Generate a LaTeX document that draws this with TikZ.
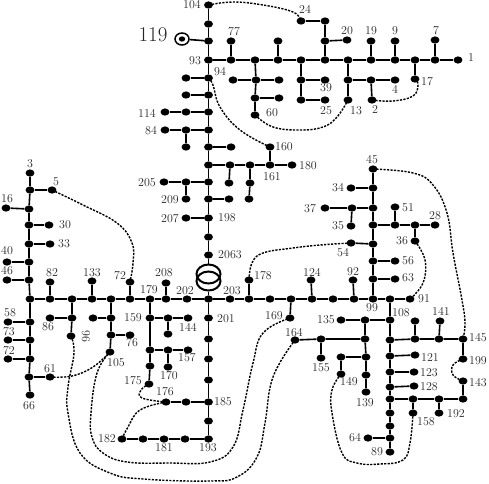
\documentclass[tikz,border=0pt]{standalone}
\usepackage{fontspec}
\usetikzlibrary{shapes.geometric}

\tikzset{
  bus/.style={ellipse, fill=black, minimum width=8.8pt, minimum height=7.2pt, inner sep=0pt},
  winding/.style={ellipse, draw=black, line width=2pt, minimum width=24pt, minimum height=19pt, inner sep=0pt},
  feeder/.style={black, line width=1.6pt},
  tie/.style={black, line width=1.4pt, dash pattern=on 2.2pt off 1.3pt},
  tag/.style={black!85, inner sep=0pt, font=\fontsize{12}{12}\selectfont}
}

\begin{document}
\begin{tikzpicture}[x=1pt, y=-1pt]
  \useasboundingbox (0,0) rectangle (489,483);

  % ==========================================
  % BUSES
  % ==========================================
  % Upper vertical and its side branches
  \foreach \name/\x/\y in {n104/208.5/5, v1/208.5/24, v2/208.5/41, n93/208.5/60, n94/208.5/78, v3/208.5/95,
      v4/208.5/112, v5/208.5/130, v6/208.5/147, v7/208.5/165, v8/208.5/182, v9/208.5/199, n198/208.5/218,
      v10/208.5/237, n2063/208.5/255, p1/186/78, p2/186/95, p3/186/112, n114/165/112, p4/186/130, n84/165/130,
      p5/186/147, w0/231/147, c1/230/165, c2/250/165, c3/270/165, n180/292/165, n160/270/147, c4/229/183,
      c5/250/183, c6/249/199, p6/186/182, n205/164/182, n209/186/199, c7/229/199, n207/186/218}
    \node[bus] (\name) at (\x,\y) {};

  % Top row
  \foreach \name/\x/\y in {r1/231/60, r2/255/60, r3/278/60, r4/301/60, r5/325/60, r6/348/60, r7/371/60, r8/395/60,
      r9/415/60, r10/435/60, n1/458/60, n77/231/41, a1/256/80, a2/255/98, n60/255/115, a3/233/80, a4/279/80,
      a5/279/98, s3/278/41, s1/301/80, s2/301/100, n39/325/80, n25/325/100, o1/325/41, o2/325/21, n24/301/21,
      n20/347/40, i1/348/80, n13/348/100, i2/371/80, n4/395/80, n2/372/100, n19/371/41, n9/395/41, n17/415/79, n7/435/40}
    \node[bus] (\name) at (\x,\y) {};

  % Main bar, left column and right column
  \foreach \name/\x/\y in {b0/30/299, b1/50/299, b2/72/299, b3/92/299, b4/111/299, b5/130/299, b6/150/299, b7/166/299,
      b8/187/299, m0/208.5/299, b9/230/299, b10/249/299, b11/270/299, b12/291/299, b13/312/299, b14/333/299,
      b15/354/299, b16/373/299, b17/390/299, n91/410/299, n82/50/282, n133/92/281, n72/130/282, n208/166/283,
      n178/249/280, n169/290/318, n124/311/280, n92/353/280, l1/29/280, l2/29/262, l3/29/244, l4/29/225, l5/29/209,
      l6/30/190, n3/30/173, n46/7/280, n40/7/262, n33/50/244, n30/49/225, n16/6/208, n5/52/190, d1/30/322, d2/30/340,
      d3/30/359, d4/29/377, n66/30/395, n58/8/322, n73/8/340, n72b/8/359, n61/50/377, q1/373/279, q2/373/261,
      q3/373/244, q4/373/225, q5/373/208, q6/373/188, n45/373/169, n63/395/279, n56/395/261, n54/351/243, q7/395/225,
      q8/415/225, n28/435/225, n51/395/207, n36/415/241, q9/352/208, n37/325/208, n35/351/226, n34/351/188}
    \node[bus] (\name) at (\x,\y) {};

  % Lower left block
  \foreach \name/\x/\y in {e1/72/318, n96/71/336, n86/50/318, f1/111/318, f2/111/335, n105/110/352, f3/93/318, n76/130/335,
      n159/150/318, g2/150/350, g3/150/366, n175/149/384, g4/168/318, n144/188/318, g6/168/334, g7/168/350,
      n157/188/350, n170/168/367, n201/208.5/318, h1/208.5/339, h2/208.5/359, h3/208.5/380, n185/208.5/402,
      h4/208.5/421, n193/208.5/439, k1/185/439, n181/164/439, k2/143/439, n182/122/439, k3/186/402, n176/166/402}
    \node[bus] (\name) at (\x,\y) {};

  % Lower right block
  \foreach \name/\x/\y in {n108/390/320, y1/390/340, y2/390/356, y3/390/372, y4/390/387, y5/390/399, y6/390/413,
      y7/390/426, y8/390/438, n89/390/452, z1/365/320, n135/341/320, z2/365/339, z3/366/357, z4/366/375, n139/366/392,
      z5/321/339, n164/295/340, n155/321/358, z6/341/357, n149/341/374, x1/415/339, x2/439/339, n145/463/339,
      n199/463/359, x3/415/321, n141/440/321, n121/415/355, n123/414/372, n128/414/386, w1/413/399, w2/439/399,
      w3/463/399, n143/463/381, n158/413/413, n192/439/413, n64b/368/438}
    \node[bus] (\name) at (\x,\y) {};

  % Source symbol and transformer
  \node[ellipse, draw=black, line width=1.5pt, minimum width=14pt, minimum height=12pt, inner sep=0pt] (src) at (182,39) {};
  \node[bus, minimum width=6.4pt, minimum height=5.2pt] (n119) at (182,39) {};
  \node[winding] (tr1) at (208.5,274) {};
  \node[winding] (tr2) at (208.5,281) {};

  % ==========================================
  % FEEDERS
  % ==========================================
  \draw[feeder] (n104) -- (v1) -- (v2) -- (n93) -- (n94) -- (v3) -- (v4) -- (v5) -- (v6) -- (v7) -- (v8) -- (v9)
      -- (n198) -- (v10) -- (n2063) -- (tr1);
  \draw[feeder] (tr2) -- (m0) -- (n201) -- (h1) -- (h2) -- (h3) -- (n185) -- (h4) -- (n193) -- (k1) -- (n181) -- (k2) -- (n182);
  \draw[feeder] (v2) -- (src);
  \draw[feeder] (n94) -- (p1);
  \draw[feeder] (v3) -- (p2);
  \draw[feeder] (v4) -- (p3) -- (n114);
  \draw[feeder] (v5) -- (p4) -- (n84);
  \draw[feeder] (p4) -- (p5);
  \draw[feeder] (v6) -- (w0);
  \draw[feeder] (v7) -- (c1) -- (c2) -- (c3) -- (n180);
  \draw[feeder] (c3) -- (n160);
  \draw[feeder] (c1) -- (c4);
  \draw[feeder] (c2) -- (c5) -- (c6);
  \draw[feeder] (v8) -- (p6) -- (n205);
  \draw[feeder] (p6) -- (n209);
  \draw[feeder] (v9) -- (c7);
  \draw[feeder] (n198) -- (n207);

  % Top row
  \draw[feeder] (n93) -- (r1) -- (r2) -- (r3) -- (r4) -- (r5) -- (r6) -- (r7) -- (r8) -- (r9) -- (r10) -- (n1);
  \draw[feeder] (r1) -- (n77);
  \draw[feeder] (r2) -- (a1) -- (a2) -- (n60);
  \draw[feeder] (a3) -- (a1) -- (a4);
  \draw[feeder] (a2) -- (a5);
  \draw[feeder] (r3) -- (s3);
  \draw[feeder] (r4) -- (s1) -- (s2) -- (n25);
  \draw[feeder] (s1) -- (n39);
  \draw[feeder] (r5) -- (o1) -- (o2) -- (n24);
  \draw[feeder] (o1) -- (n20);
  \draw[feeder] (r6) -- (i1) -- (n13);
  \draw[feeder] (i1) -- (i2) -- (n4);
  \draw[feeder] (i2) -- (n2);
  \draw[feeder] (r7) -- (n19);
  \draw[feeder] (r8) -- (n9);
  \draw[feeder] (r9) -- (n17);
  \draw[feeder] (r10) -- (n7);

  % Main bar and what hangs on it
  \draw[feeder] (b0) -- (b1) -- (b2) -- (b3) -- (b4) -- (b5) -- (b6) -- (b7) -- (b8) -- (m0) -- (b9) -- (b10) -- (b11)
      -- (b12) -- (b13) -- (b14) -- (b15) -- (b16) -- (b17) -- (n91);
  \draw[feeder] (b1) -- (n82);
  \draw[feeder] (b3) -- (n133);
  \draw[feeder] (b5) -- (n72);
  \draw[feeder] (b7) -- (n208);
  \draw[feeder] (b10) -- (n178);
  \draw[feeder] (b12) -- (n169);
  \draw[feeder] (b13) -- (n124);
  \draw[feeder] (b15) -- (n92);

  % Left column
  \draw[feeder] (n3) -- (l6) -- (l5) -- (l4) -- (l3) -- (l2) -- (l1) -- (b0) -- (d1) -- (d2) -- (d3) -- (d4) -- (n66);
  \draw[feeder] (l1) -- (n46);
  \draw[feeder] (l2) -- (n40);
  \draw[feeder] (l3) -- (n33);
  \draw[feeder] (l4) -- (n30);
  \draw[feeder] (l5) -- (n16);
  \draw[feeder] (l6) -- (n5);
  \draw[feeder] (d1) -- (n58);
  \draw[feeder] (d2) -- (n73);
  \draw[feeder] (d3) -- (n72b);
  \draw[feeder] (d4) -- (n61);

  % Lower left block
  \draw[feeder] (b2) -- (e1) -- (n96);
  \draw[feeder] (e1) -- (n86);
  \draw[feeder] (b4) -- (f1) -- (f2) -- (n105);
  \draw[feeder] (f1) -- (f3);
  \draw[feeder] (f2) -- (n76);
  \draw[feeder] (b6) -- (n159) -- (g2) -- (g3) -- (n175);
  \draw[feeder] (n159) -- (g4) -- (n144);
  \draw[feeder] (g4) -- (g6);
  \draw[feeder] (g2) -- (g7) -- (n157);
  \draw[feeder] (g7) -- (n170);
  \draw[feeder] (n185) -- (k3) -- (n176);

  % Right column
  \draw[feeder] (b16) -- (q1) -- (q2) -- (q3) -- (q4) -- (q5) -- (q6) -- (n45);
  \draw[feeder] (q1) -- (n63);
  \draw[feeder] (q2) -- (n56);
  \draw[feeder] (q3) -- (n54);
  \draw[feeder] (q4) -- (q7) -- (q8) -- (n28);
  \draw[feeder] (q7) -- (n51);
  \draw[feeder] (q8) -- (n36);
  \draw[feeder] (q5) -- (q9) -- (n37);
  \draw[feeder] (q9) -- (n35);
  \draw[feeder] (q6) -- (n34);

  % Lower right block
  \draw[feeder] (b17) -- (n108) -- (y1) -- (y2) -- (y3) -- (y4) -- (y5) -- (y6) -- (y7) -- (y8) -- (n89);
  \draw[feeder] (n108) -- (z1) -- (n135);
  \draw[feeder] (z1) -- (z2) -- (z3) -- (z4) -- (n139);
  \draw[feeder] (z2) -- (z5) -- (n164);
  \draw[feeder] (z5) -- (n155);
  \draw[feeder] (z3) -- (z6) -- (n149);
  \draw[feeder] (y1) -- (x1) -- (x2) -- (n145) -- (n199);
  \draw[feeder] (x1) -- (x3);
  \draw[feeder] (x2) -- (n141);
  \draw[feeder] (y2) -- (n121);
  \draw[feeder] (y3) -- (n123);
  \draw[feeder] (y4) -- (n128);
  \draw[feeder] (y5) -- (w1) -- (w2) -- (w3) -- (n143);
  \draw[feeder] (w1) -- (n158);
  \draw[feeder] (w2) -- (n192);
  \draw[feeder] (y8) -- (n64b);

  % ==========================================
  % TIE LINES (dashed)
  % ==========================================
  \draw[tie] plot[smooth, tension=0.7] coordinates {(n104.center) (233,2) (263,5) (293,12) (n24.center)};
  \draw[tie] plot[smooth, tension=0.7] coordinates {(n94.center) (213,85) (220,107) (240,130) (n160.center)};
  \draw[tie] plot[smooth, tension=0.7] coordinates {(n60.center) (273,127) (300,130) (323,127) (337,117) (n13.center)};
  \draw[tie] plot[smooth, tension=0.7] coordinates {(n2.center) (393,101) (413,96) (418,85) (n17.center)};
  \draw[tie] plot[smooth, tension=0.7] coordinates {(n5.center) (83,205) (117,223) (132,243) (133,263) (n72.center)};
  \draw[tie] plot[smooth, tension=0.7] coordinates {(n178.center) (252,263) (263,253) (293,248) (320,245) (n54.center)};
  \draw[tie] plot[smooth, tension=0.7] coordinates {(n45.center) (413,173) (433,185) (447,213) (453,253) (462,300) (465,323) (n145.center)};
  \draw[tie] plot[smooth, tension=0.7] coordinates {(n36.center) (425,260) (423,283) (n91.center)};
  \draw[tie] plot[smooth, tension=0.7] coordinates {(n199.center) (453,365) (453,375) (n143.center)};
  \draw[tie] plot[smooth, tension=0.7] coordinates {(n149.center) (332,390) (332,413) (342,453) (357,463) (380,464) (403,460) (410,443) (n158.center)};
  \draw[tie] plot[smooth, tension=0.7] coordinates {(n61.center) (72,376) (93,367) (n105.center)};
  \draw[tie] plot[smooth, tension=0.7] coordinates {(n96.center) (74,353) (68,387) (68,413) (80,453) (110,473) (143,479) (210,481) (237,477) (257,457) (265,423) (273,377) (n164.center)};
  \draw[tie] plot[smooth, tension=0.7] coordinates {(n105.center) (97,373) (91,413) (92,437) (103,453) (127,462) (170,463) (210,462) (233,447) (243,410) (253,363) (263,333) (n169.center)};
  \draw[tie] plot[smooth, tension=0.7] coordinates {(n175.center) (141,390) (142,398) (n176.center)};
  \draw[tie] plot[smooth, tension=0.7] coordinates {(n176.center) (140,410) (128,427) (n182.center)};

  % ==========================================
  % BUS NUMBERS
  % ==========================================
  \foreach \txt/\x/\y in {104/192/5, 77/234/32, 93/195/61, 94/220/72, 24/305/9, 114/147/113, 84/151/131, 60/272/113,
      160/284/147, 20/347/31, 19/371/31, 9/395/31, 7/436/31, 1/471/58, 17/427/82, 39/326/88, 4/395/89, 25/326/111,
      13/356/111, 2/375/110, 3/30/164, 5/56/182, 16/7/199, 30/65/225, 33/64/244, 40/7/251, 46/7/271, 82/52/273,
      133/92/273, 72/120/276, 179/149/290, 208/164/273, 58/10/313, 73/9/332, 86/48/327, 76/132/343, 105/116/363,
      61/50/369, 66/29/406, 159/133/318, 175/133/381, 182/107/439, 205/147/183, 209/170/200, 207/170/219, 198/227/218,
      2063/230/255, 178/263/276, 202/185/291, 203/232/291, 161/272/177, 180/308/166, 124/312/272, 45/372/160,
      34/338/188, 37/310/209, 35/338/226, 51/408/208, 28/435/216, 36/402/241, 54/343/253, 56/408/261, 63/408/278,
      92/353/272, 99/372/308, 91/424/299, 108/401/313, 141/441/311, 201/226/319, 144/188/327, 157/187/358, 170/169/376,
      176/165/392, 185/223/402, 181/164/448, 193/208/448, 169/274/316, 164/294/333, 135/326/320, 155/321/368,
      149/349/382, 139/365/403, 145/478/338, 199/478/361, 143/478/383, 121/430/357, 123/429/373, 128/429/387,
      192/456/414, 158/426/422, 64/355/438, 89/377/452}
    \node[tag] (t\txt) at (\x,\y) {\txt};
  \node[tag] (t72b) at (9,351) {72};
  \node[tag, rotate=-90] (t96) at (86,336) {96};
  \node[tag, font=\fontsize{21}{21}\selectfont] (t119) at (153,35) {119};

\end{tikzpicture}
\end{document}
